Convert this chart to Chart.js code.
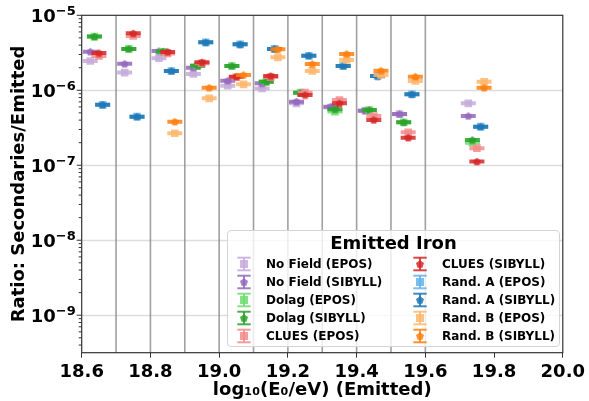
<!DOCTYPE html>
<html>
<head>
<meta charset="utf-8">
<script src="https://cdn.jsdelivr.net/npm/chart.js@4.4.0/dist/chart.umd.min.js"></script>
<style>
  html, body { margin: 0; padding: 0; background: #ffffff; }
  #wrap { position: relative; width: 589px; height: 401px; font-family: "DejaVu Sans", sans-serif; font-weight: bold; }
  #c { position: absolute; left: 0; top: 0; }
  #legend {
    position: absolute; left: 227px; top: 230px; width: 333px; height: 117px;
    box-sizing: border-box; background: rgba(255,255,255,0.8);
    border: 1px solid #d4d4d4; border-radius: 4px;
  }
  #legend .title {
    position: absolute; left: 0; right: 0; top: 1px; text-align: center;
    font-size: 18px; line-height: 22px; color: #000;
  }
  #legend .item { position: absolute; height: 18px; font-size: 12px; line-height: 18px; color: #000; white-space: nowrap; }
  #legend .item svg { position: absolute; left: 0; top: 0; }
  #legend .item span { position: absolute; left: 31px; top: 0; }
</style>
</head>
<body>
<div id="wrap">
  <canvas id="c" width="589" height="401"></canvas>
  <div id="legend"></div>
</div>
<script>
// Energy bins (bin centres, log10 E/eV) and bin boundaries drawn as separators
const binCenters = [18.65, 18.75, 18.85, 18.95, 19.05, 19.15, 19.25, 19.35, 19.45, 19.55, 19.75];
const binEdges = [18.7, 18.8, 18.9, 19.0, 19.1, 19.2, 19.3, 19.4, 19.5, 19.6];
const xTickValues = [18.6, 18.8, 19.0, 19.2, 19.4, 19.6, 19.8, 20.0];
const yDecades = [-9, -8, -7, -6, -5];

// Ratio of secondaries to emitted particles for each field model and hadronic model
const noFieldEpos   = [2.46e-6, 1.72e-6, 2.67e-6, 1.65e-6, 1.15e-6, 1.06e-6, 6.7e-7, 5.9e-7, 5.35e-7, 4.8e-7, 6.7e-7];
const noFieldSibyll = [3.27e-6, 2.25e-6, 3.34e-6, 2.0e-6, 1.34e-6, 1.24e-6, 7.05e-7, 6.04e-7, 5.35e-7, 4.83e-7, 4.54e-7];
const dolagEpos     = [5.2e-6, 3.56e-6, 3.27e-6, 2.13e-6, 2.11e-6, 1.3e-6, 9.3e-7, 5.2e-7, 5.46e-7, 3.74e-7, 2.0e-7];
const dolagSibyll   = [5.2e-6, 3.56e-6, 3.3e-6, 2.13e-6, 2.11e-6, 1.3e-6, 9.3e-7, 5.58e-7, 5.46e-7, 3.74e-7, 2.17e-7];
const cluesEpos     = [2.87e-6, 5.3e-6, 3.1e-6, 2.3e-6, 1.5e-6, 1.5e-6, 9.3e-7, 7.4e-7, 4.54e-7, 2.75e-7, 1.69e-7];
const cluesSibyll   = [3.14e-6, 5.75e-6, 3.25e-6, 2.36e-6, 1.52e-6, 1.55e-6, 8.65e-7, 6.7e-7, 4.02e-7, 2.33e-7, 1.12e-7];
const randAEpos     = [6.4e-7, 4.45e-7, 1.81e-6, 4.36e-6, 4.1e-6, 3.56e-6, 2.89e-6, 2.11e-6, 1.55e-6, 8.85e-7, 3.27e-7];
const randASibyll   = [6.4e-7, 4.45e-7, 1.81e-6, 4.36e-6, 4.1e-6, 3.56e-6, 2.89e-6, 2.11e-6, 1.55e-6, 8.85e-7, 3.27e-7];
const randBEpos     = [null, null, 2.67e-7, 7.8e-7, 1.2e-6, 2.75e-6, 1.81e-6, 2.53e-6, 1.6e-6, 1.33e-6, 1.3e-6];
const randBSibyll   = [null, null, 3.81e-7, 1.08e-6, 1.6e-6, 3.52e-6, 2.24e-6, 3.05e-6, 1.82e-6, 1.52e-6, 1.08e-6];

// Small horizontal shift per field model so points in a bin do not overlap
const modelShift = { noField: -0.025, dolag: -0.013, clues: 0, randA: 0.011, randB: 0.021 };

const series = [
  { label: 'No Field (EPOS)',   values: noFieldEpos,   shift: modelShift.noField, color: 'rgba(197,172,218,0.85)', epos: true },
  { label: 'No Field (SIBYLL)', values: noFieldSibyll, shift: modelShift.noField, color: 'rgba(148,103,189,0.85)', epos: false },
  { label: 'Dolag (EPOS)',      values: dolagEpos,     shift: modelShift.dolag,   color: 'rgba(110,220,110,0.85)', epos: true },
  { label: 'Dolag (SIBYLL)',    values: dolagSibyll,   shift: modelShift.dolag,   color: 'rgba(44,160,44,0.85)',   epos: false },
  { label: 'CLUES (EPOS)',      values: cluesEpos,     shift: modelShift.clues,   color: 'rgba(243,140,140,0.85)', epos: true },
  { label: 'CLUES (SIBYLL)',    values: cluesSibyll,   shift: modelShift.clues,   color: 'rgba(214,39,40,0.85)',   epos: false },
  { label: 'Rand. A (EPOS)',    values: randAEpos,     shift: modelShift.randA,   color: 'rgba(100,178,234,0.85)', epos: true },
  { label: 'Rand. A (SIBYLL)',  values: randASibyll,   shift: modelShift.randA,   color: 'rgba(31,119,180,0.85)',  epos: false },
  { label: 'Rand. B (EPOS)',    values: randBEpos,     shift: modelShift.randB,   color: 'rgba(255,183,112,0.85)', epos: true },
  { label: 'Rand. B (SIBYLL)',  values: randBSibyll,   shift: modelShift.randB,   color: 'rgba(255,127,14,0.85)',  epos: false }
];

function pentagonPath(ctx, cx, cy, r) {
  ctx.beginPath();
  for (let k = 0; k < 5; k++) {
    const a = -Math.PI / 2 + k * 2 * Math.PI / 5;
    const px = cx + r * Math.cos(a), py = cy + r * Math.sin(a);
    if (k === 0) ctx.moveTo(px, py); else ctx.lineTo(px, py);
  }
  ctx.closePath();
}

function makePentagon(color) {
  const cv = document.createElement('canvas');
  cv.width = 9; cv.height = 9;
  const g = cv.getContext('2d');
  g.fillStyle = color;
  pentagonPath(g, 4.5, 4.9, 4.2);
  g.fill();
  return cv;
}

const datasets = series.map((s, i) => ({
  label: s.label,
  data: binCenters.map((c, j) => ({ x: c + s.shift, y: s.values[j] })),
  backgroundColor: s.color,
  borderWidth: 0,
  pointStyle: s.epos ? 'rect' : makePentagon(s.color),
  pointRadius: s.epos ? 5.4 : 4.5,
  capColor: s.color,
  order: series.length - i,
  showLine: false
}));

// Decorations: grid, bin separators, error caps, frame and log-axis labels
const decor = {
  id: 'decor',
  beforeDatasetsDraw(chart) {
    const { ctx, chartArea: a, scales: { x, y } } = chart;
    ctx.save();
    ctx.strokeStyle = '#dddddd';
    ctx.lineWidth = 1.6;
    yDecades.forEach(e => {
      const py = Math.round(y.getPixelForValue(Math.pow(10, e))) + 0.5;
      if (py > a.top + 1 && py < a.bottom - 1) {
        ctx.beginPath(); ctx.moveTo(a.left, py); ctx.lineTo(a.right, py); ctx.stroke();
      }
    });
    ctx.strokeStyle = 'rgba(128,128,128,0.75)';
    ctx.lineWidth = 1.6;
    binEdges.forEach(v => {
      const px = x.getPixelForValue(v);
      ctx.beginPath(); ctx.moveTo(px, a.top); ctx.lineTo(px, a.bottom); ctx.stroke();
    });
    ctx.restore();
  },
  beforeDatasetDraw(chart, args) {
    const ds = chart.data.datasets[args.index];
    const ctx = chart.ctx;
    ctx.save();
    ctx.strokeStyle = ds.capColor;
    ctx.lineWidth = 2;
    args.meta.data.forEach(pt => {
      if (pt.skip || !isFinite(pt.y)) return;
      const px = pt.x, py = pt.y;
      ctx.beginPath();
      ctx.moveTo(px - 7.5, py - 1); ctx.lineTo(px + 7.5, py - 1);
      ctx.moveTo(px - 7.5, py + 1); ctx.lineTo(px + 7.5, py + 1);
      ctx.stroke();
    });
    ctx.restore();
  },
  afterDraw(chart) {
    const { ctx, chartArea: a, scales: { y } } = chart;
    ctx.save();
    // frame
    ctx.strokeStyle = '#333333';
    ctx.lineWidth = 1.2;
    ctx.strokeRect(a.left, a.top, a.right - a.left, a.bottom - a.top);
    // log ticks
    ctx.lineWidth = 1;
    for (let e = -10; e <= -5; e++) {
      for (let m = 1; m <= 9; m++) {
        const v = m * Math.pow(10, e);
        const py = y.getPixelForValue(v);
        if (py < a.top - 0.5 || py > a.bottom + 0.5) continue;
        const len = m === 1 ? 5 : 3;
        ctx.beginPath(); ctx.moveTo(a.left - len, py); ctx.lineTo(a.left, py); ctx.stroke();
      }
    }
    // decade labels 10^n
    ctx.fillStyle = '#000000';
    ctx.textBaseline = 'alphabetic';
    yDecades.forEach(e => {
      const py = y.getPixelForValue(Math.pow(10, e));
      const base = '10', sup = '\u2212' + Math.abs(e);
      ctx.font = 'bold 18px "DejaVu Sans"';
      const wb = ctx.measureText(base).width;
      ctx.font = 'bold 13px "DejaVu Sans"';
      const ws = ctx.measureText(sup).width;
      const right = a.left - 6;
      ctx.font = 'bold 18px "DejaVu Sans"';
      ctx.fillText(base, right - ws - wb, py + 6.8);
      ctx.font = 'bold 13px "DejaVu Sans"';
      ctx.fillText(sup, right - ws, py - 0.2);
    });
    ctx.restore();
  }
};

new Chart(document.getElementById('c'), {
  type: 'scatter',
  data: { datasets },
  options: {
    responsive: false,
    animation: false,
    events: [],
    layout: { padding: { left: 0, right: 22.3, top: 15.3, bottom: 0 } },
    plugins: { legend: { display: false }, tooltip: { enabled: false } },
    scales: {
      x: {
        type: 'linear', min: 18.6, max: 20.0,
        afterBuildTicks(scale) { scale.ticks = xTickValues.map(v => ({ value: v })); },
        afterFit(scale) { scale.height = 48.3; },
        grid: { drawOnChartArea: false, drawTicks: true, tickLength: 5, tickColor: '#333333' },
        border: { display: false },
        ticks: {
          padding: 4, color: '#000000',
          font: { family: 'DejaVu Sans', size: 18, weight: 'bold' },
          callback: v => Number(v).toFixed(1), maxRotation: 0, autoSkip: false
        },
        title: {
          display: true, text: 'log\u2081\u2080(E\u2080/eV) (Emitted)', color: '#000000',
          font: { family: 'DejaVu Sans', size: 18, weight: 'bold' }, padding: { top: 0, bottom: 0 }
        }
      },
      y: {
        type: 'logarithmic', min: Math.pow(10, -9.5), max: 1e-5,
        afterFit(scale) { scale.width = 81.7; },
        grid: { display: false },
        border: { display: false },
        ticks: { display: false },
        title: {
          display: true, text: 'Ratio: Secondaries/Emitted', color: '#000000',
          font: { family: 'DejaVu Sans', size: 18, weight: 'bold' }, padding: { top: 9, bottom: 0 }
        }
      }
    }
  },
  plugins: [decor]
});

// Legend with error-bar glyphs, two columns of five entries
(function buildLegend() {
  const box = document.getElementById('legend');
  const t = document.createElement('div');
  t.className = 'title';
  t.textContent = 'Emitted Iron';
  box.appendChild(t);
  const rowTops = [24, 42, 60, 78, 96];
  const colLefts = [7, 183];
  series.forEach((s, i) => {
    const col = Math.floor(i / 5), row = i % 5;
    const it = document.createElement('div');
    it.className = 'item';
    it.style.left = colLefts[col] + 'px';
    it.style.top = rowTops[row] + 'px';
    const marker = s.epos
      ? '<rect x="5" y="5" width="8" height="8" fill="' + s.color + '"/>'
      : (function () {
          let pts = [];
          for (let k = 0; k < 5; k++) {
            const a = -Math.PI / 2 + k * 2 * Math.PI / 5;
            pts.push((9 + 4.2 * Math.cos(a)).toFixed(2) + ',' + (9.4 + 4.2 * Math.sin(a)).toFixed(2));
          }
          return '<polygon points="' + pts.join(' ') + '" fill="' + s.color + '"/>';
        })();
    it.innerHTML =
      '<svg width="18" height="18" viewBox="0 0 18 18">' +
      '<g stroke="' + s.color + '" stroke-width="2" fill="none">' +
      '<line x1="9" y1="2.7" x2="9" y2="15.3"/>' +
      '<line x1="2.3" y1="2.7" x2="15.7" y2="2.7"/>' +
      '<line x1="2.3" y1="15.3" x2="15.7" y2="15.3"/></g>' +
      marker + '</svg><span>' + s.label + '</span>';
    box.appendChild(it);
  });
})();
</script>
</body>
</html>
